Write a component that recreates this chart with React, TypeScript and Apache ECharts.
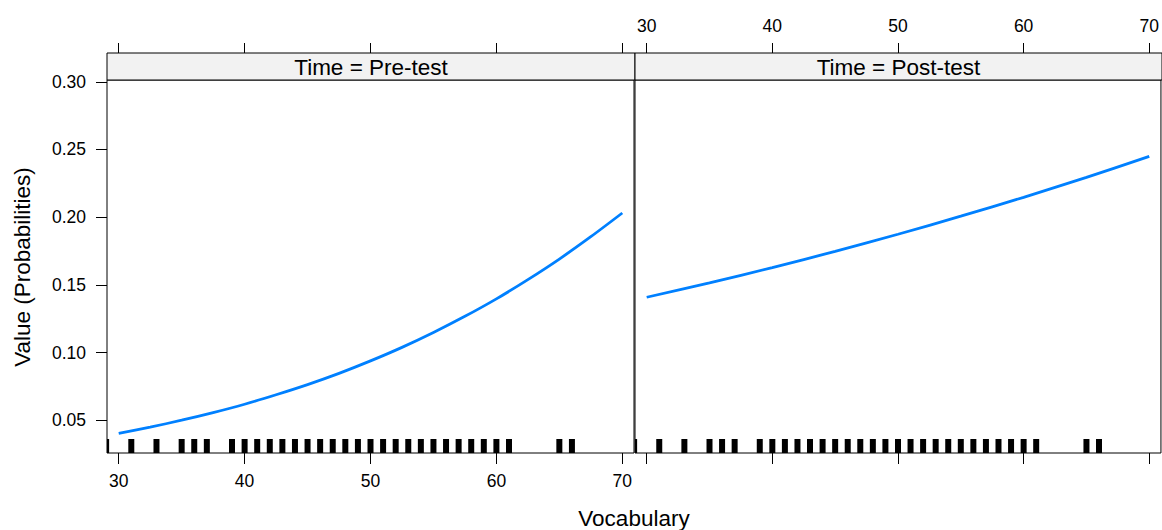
import React, { useEffect, useRef } from "react";
import * as echarts from "echarts";

const panels = ["Time = Pre-test", "Time = Post-test"];
const xTicks = [30, 40, 50, 60, 70];
const yTicks = [0.05, 0.1, 0.15, 0.2, 0.25, 0.3];

const preX = [30, 32.5, 35, 37.5, 40, 42.5, 45, 47.5, 50, 52.5, 55, 57.5, 60, 62.5, 65, 67.5, 70];
const preY = [0.0404, 0.045, 0.0501, 0.0557, 0.0619, 0.0689, 0.0764, 0.0847, 0.0939, 0.1039, 0.1149, 0.1268, 0.1397, 0.1539, 0.1691, 0.1856, 0.2031];

const postX = [30, 35, 40, 45, 50, 55, 60, 65, 70];
const postY = [0.1409, 0.1515, 0.1628, 0.1748, 0.1874, 0.2008, 0.2147, 0.2294, 0.2449];

const rugValues = [29, 31, 33, 35, 36, 37, 39, 40, 41, 42, 43, 44, 45, 46, 47, 48, 49, 50, 51, 52, 53, 54, 55, 56, 57, 58, 59, 60, 61, 65, 66];

const X_MIN = 29.07;
const X_MAX = 70.93;
const Y_MIN = 0.0259;
const Y_MAX = 0.3013;

const FONT = "'Liberation Sans', Arial, Helvetica, sans-serif";

export default function App() {
  const ref = useRef<HTMLDivElement>(null);

  useEffect(() => {
    if (!ref.current) return;
    const chart = echarts.init(ref.current, undefined, { renderer: "svg" });

    const gridTop = 80;
    const gridH = 373;
    const grids = [
      { left: 107, top: gridTop, width: 527, height: gridH, show: true, borderColor: "#000", borderWidth: 1, backgroundColor: "transparent" },
      { left: 635, top: gridTop, width: 527, height: gridH, show: true, borderColor: "#000", borderWidth: 1, backgroundColor: "transparent" },
    ];

    const tickLabelStyle = { color: "#000", fontSize: 17.5, fontFamily: FONT };

    const xAxes: any[] = [];
    [0, 1].forEach((i) => {
      xAxes.push({
        type: "value",
        gridIndex: i,
        position: "bottom",
        min: X_MIN,
        max: X_MAX,
        axisLine: { show: false },
        splitLine: { show: false },
        axisTick: { show: true, length: 11, inside: false, customValues: xTicks, lineStyle: { color: "#000", width: 1 } },
        axisLabel: { show: i === 0, margin: 19, customValues: xTicks, ...tickLabelStyle },
      });
      xAxes.push({
        type: "value",
        gridIndex: i,
        position: "top",
        offset: 27,
        min: X_MIN,
        max: X_MAX,
        axisLine: { show: false },
        splitLine: { show: false },
        axisTick: { show: true, length: 10, inside: false, customValues: xTicks, lineStyle: { color: "#000", width: 1 } },
        axisLabel: { show: i === 1, margin: 18, customValues: xTicks, ...tickLabelStyle },
      });
    });

    const yAxes = [0, 1].map((i) => ({
      type: "value",
      gridIndex: i,
      position: "left",
      min: Y_MIN,
      max: Y_MAX,
      axisLine: { show: false },
      splitLine: { show: false },
      axisTick: { show: i === 0, length: 11, inside: false, customValues: yTicks, lineStyle: { color: "#000", width: 1 } },
      axisLabel: {
        show: i === 0,
        margin: 21,
        customValues: yTicks,
        formatter: (v: number) => v.toFixed(2),
        ...tickLabelStyle,
      },
    }));

    const rugSeries = (gridIdx: number) => ({
      type: "custom",
      xAxisIndex: gridIdx * 2,
      yAxisIndex: gridIdx,
      data: rugValues.map((v) => [v]),
      renderItem: (params: any, api: any) => {
        const pt = api.coord([api.value(0), Y_MIN]);
        const w = 6;
        const h = 14;
        const shape = echarts.graphic.clipRectByRect(
          { x: pt[0] - w / 2, y: pt[1] - h, width: w, height: h },
          {
            x: params.coordSys.x,
            y: params.coordSys.y,
            width: params.coordSys.width,
            height: params.coordSys.height,
          }
        );
        if (!shape) return null;
        return { type: "rect", shape, style: { fill: "#000" } };
      },
      z: 3,
    });

    const lineStyle = { color: "#0080ff", width: 2.8 };

    const option: any = {
      animation: false,
      backgroundColor: "#fff",
      grid: grids,
      xAxis: xAxes,
      yAxis: yAxes,
      series: [
        {
          type: "line",
          xAxisIndex: 0,
          yAxisIndex: 0,
          data: preX.map((x, i) => [x, preY[i]]),
          showSymbol: false,
          symbol: "none",
          smooth: 0.3,
          lineStyle,
          z: 4,
        },
        {
          type: "line",
          xAxisIndex: 2,
          yAxisIndex: 1,
          data: postX.map((x, i) => [x, postY[i]]),
          showSymbol: false,
          symbol: "none",
          smooth: 0.3,
          lineStyle,
          z: 4,
        },
        rugSeries(0),
        rugSeries(1),
      ],
      graphic: [
        {
          type: "rect",
          shape: { x: 107, y: 53, width: 528, height: 27 },
          style: { fill: "#f2f2f2", stroke: "#000", lineWidth: 1 },
          z: 1,
        },
        {
          type: "rect",
          shape: { x: 635, y: 53, width: 527, height: 27 },
          style: { fill: "#f2f2f2", stroke: "#000", lineWidth: 1 },
          z: 1,
        },
        {
          type: "text",
          x: 371,
          y: 67,
          style: { text: panels[0], fontSize: 22.5, fontFamily: FONT, fill: "#000", textAlign: "center", textVerticalAlign: "middle" },
          z: 2,
        },
        {
          type: "text",
          x: 898.5,
          y: 67,
          style: { text: panels[1], fontSize: 22.5, fontFamily: FONT, fill: "#000", textAlign: "center", textVerticalAlign: "middle" },
          z: 2,
        },
        {
          type: "text",
          x: 634,
          y: 518,
          style: { text: "Vocabulary", fontSize: 22.5, fontFamily: FONT, fill: "#000", textAlign: "center", textVerticalAlign: "middle" },
        },
        {
          type: "text",
          x: 22,
          y: 267,
          rotation: Math.PI / 2,
          style: { text: "Value (Probabilities)", fontSize: 22.5, fontFamily: FONT, fill: "#000", textAlign: "center", textVerticalAlign: "middle" },
        },
      ],
    };

    chart.setOption(option);
    return () => chart.dispose();
  }, []);

  return (
    <div
      ref={ref}
      style={{ position: "fixed", left: 0, top: 0, width: 1162, height: 530, background: "#fff" }}
    />
  );
}
